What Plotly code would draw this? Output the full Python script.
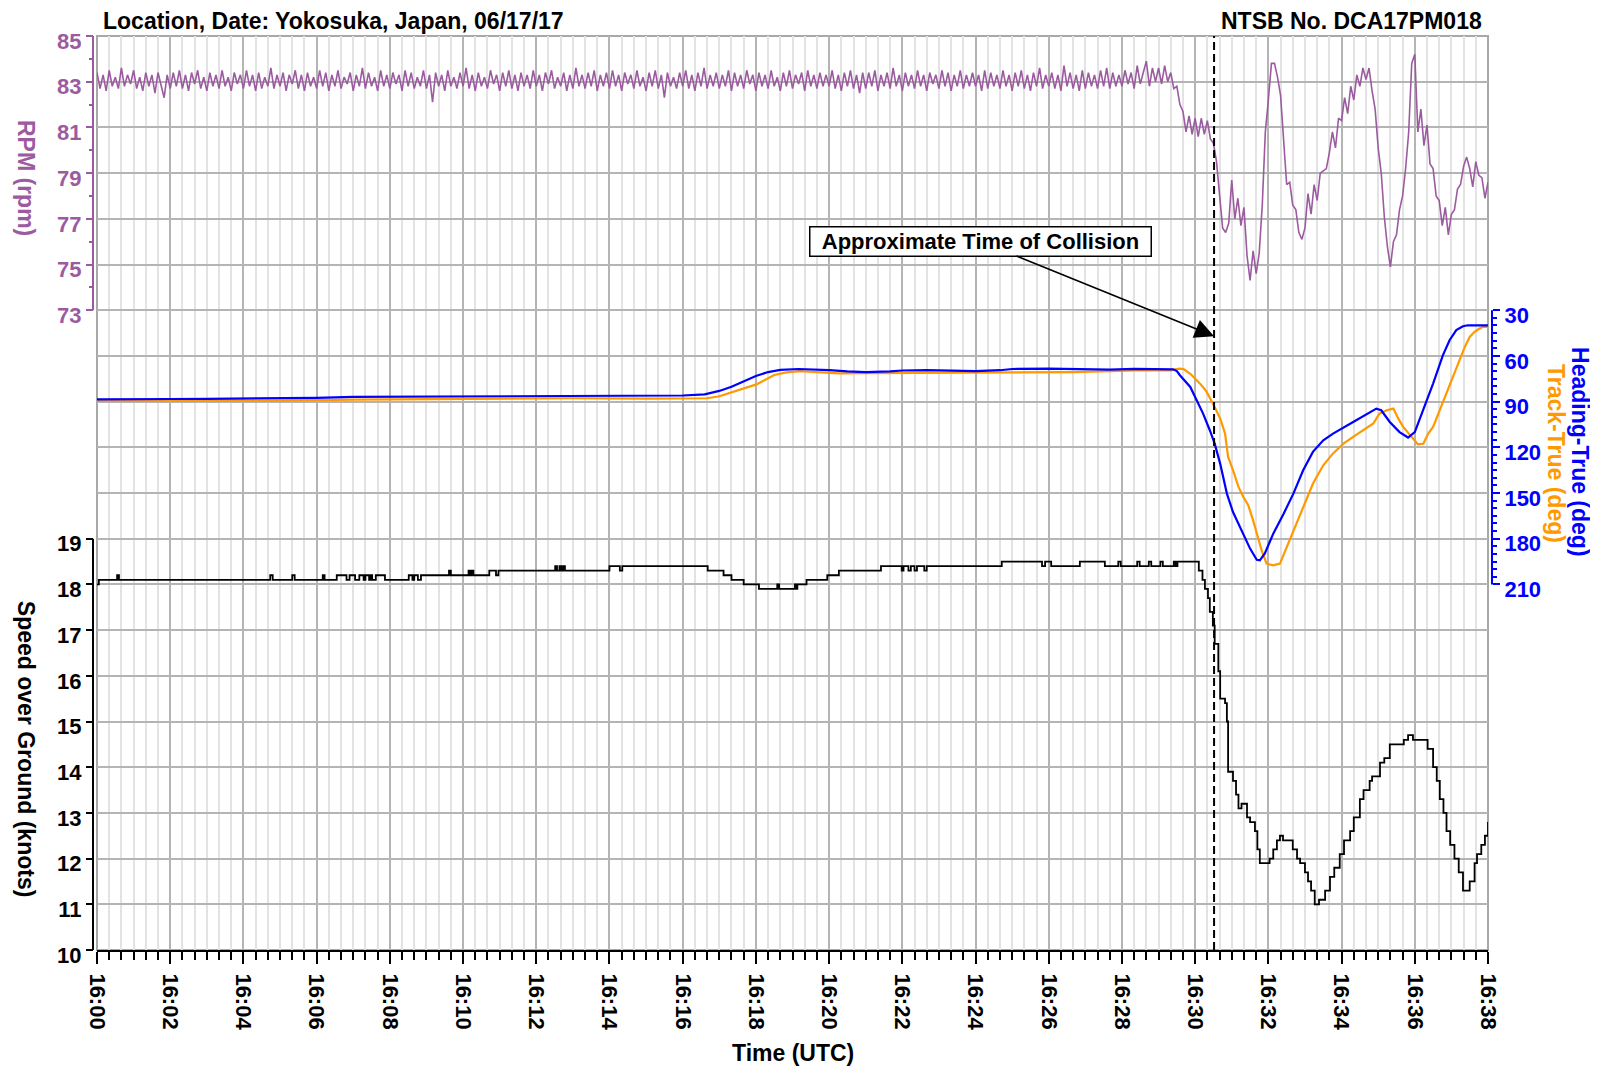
import pandas as pd
import plotly.graph_objects as go

START = pd.Timestamp("2017-06-17 16:00:00")
END_S = 2280
COLLISION_S = 1831

# ---------------- DATA ----------------
# RPM, one row per minute, samples every 5 s
rpm_rows = [
    [83.4, 82.7, 83.3, 82.6, 83.5, 82.8, 83.2, 82.7, 83.6, 82.8, 83.3, 82.9],
    [83.5, 82.7, 83.2, 82.6, 83.4, 82.8, 83.3, 82.5, 83.4, 82.8, 82.3, 83.3],
    [82.7, 83.4, 82.8, 83.5, 82.7, 83.3, 82.6, 83.4, 82.9, 83.5, 82.7, 83.2],
    [82.6, 83.4, 82.8, 83.3, 82.7, 83.5, 82.8, 83.2, 82.6, 83.4, 82.9, 83.3],
    [82.7, 83.5, 82.8, 83.3, 82.6, 83.4, 82.7, 83.2, 82.8, 83.6, 82.7, 83.3],
    [82.8, 83.4, 82.6, 83.3, 82.9, 83.5, 82.7, 83.3, 82.6, 83.4, 82.8, 83.2],
    [82.7, 83.5, 82.8, 83.4, 82.6, 83.3, 82.8, 83.5, 82.7, 83.2, 82.9, 83.4],
    [82.6, 83.3, 82.8, 83.6, 82.7, 83.4, 82.8, 83.2, 82.6, 83.5, 82.8, 83.3],
    [82.7, 83.4, 82.9, 83.3, 82.6, 83.5, 82.8, 83.4, 82.7, 83.2, 82.8, 83.5],
    [82.7, 83.3, 82.1, 83.4, 82.8, 83.3, 82.6, 83.5, 82.8, 83.2, 82.7, 83.4],
    [82.8, 83.6, 82.7, 83.3, 82.6, 83.4, 82.8, 83.2, 82.7, 83.5, 82.9, 83.3],
    [82.6, 83.4, 82.8, 83.5, 82.7, 83.3, 82.6, 83.4, 82.8, 83.3, 82.7, 83.5],
    [82.8, 83.3, 82.6, 83.4, 82.9, 83.5, 82.7, 83.2, 82.8, 83.4, 82.6, 83.3],
    [82.7, 83.6, 82.8, 83.3, 82.7, 83.4, 82.8, 83.5, 82.6, 83.3, 82.8, 83.4],
    [82.7, 83.5, 82.8, 83.3, 82.6, 83.4, 82.9, 83.3, 82.7, 83.5, 82.8, 83.2],
    [82.6, 83.4, 82.8, 83.5, 82.7, 83.3, 82.3, 83.4, 82.8, 83.2, 82.7, 83.4],
    [82.8, 83.5, 82.7, 83.3, 82.6, 83.4, 82.8, 83.6, 82.7, 83.3, 82.8, 83.4],
    [82.7, 83.3, 82.8, 83.5, 82.6, 83.4, 82.8, 83.3, 82.7, 83.5, 82.9, 83.3],
    [82.6, 83.4, 82.8, 83.3, 82.7, 83.5, 82.8, 83.2, 82.6, 83.4, 82.8, 83.5],
    [82.7, 83.3, 82.9, 83.4, 82.6, 83.5, 82.8, 83.3, 82.7, 83.4, 82.8, 83.3],
    [82.8, 83.5, 82.7, 83.3, 82.6, 83.4, 82.8, 83.5, 82.7, 83.3, 82.5, 83.4],
    [82.7, 83.4, 82.8, 83.5, 82.6, 83.3, 82.8, 83.4, 82.7, 83.6, 82.8, 83.3],
    [82.6, 83.4, 82.8, 83.3, 82.7, 83.5, 82.8, 83.3, 82.6, 83.4, 82.9, 83.3],
    [82.7, 83.5, 82.8, 83.4, 82.6, 83.3, 82.8, 83.5, 82.7, 83.3, 82.8, 83.4],
    [82.8, 83.3, 82.6, 83.5, 82.7, 83.4, 82.8, 83.3, 82.7, 83.5, 82.8, 83.3],
    [82.6, 83.4, 82.8, 83.5, 82.7, 83.3, 82.6, 83.4, 82.8, 83.6, 82.7, 83.3],
    [82.8, 83.4, 82.7, 83.3, 82.6, 83.7, 82.8, 83.4, 82.7, 83.3, 82.6, 83.5],
    [82.7, 83.4, 82.8, 83.3, 82.7, 83.5, 82.8, 83.6, 82.7, 83.4, 82.8, 83.3],
    [82.8, 83.5, 82.9, 83.4, 82.7, 83.7, 82.9, 83.4, 83.9, 82.8, 83.6, 83.0],
    [83.6, 82.9, 83.7, 83.0, 83.4, 82.7, 82.8, 82.0, 81.7, 80.8, 81.5, 80.7],
    [81.4, 80.6, 81.4, 80.7, 81.3, 80.5, 80.3, 79.5, 78.1, 76.6, 76.4, 76.8],
    [78.7, 77.0, 77.9, 76.7, 77.5, 75.4, 74.3, 75.6, 74.6, 75.5, 77.6, 80.8],
    [82.2, 83.8, 83.8, 83.2, 82.4, 80.2, 78.5, 78.6, 77.6, 77.4, 76.4, 76.1],
    [76.6, 78.1, 77.2, 78.5, 77.8, 79.0, 79.1, 79.2, 79.9, 80.8, 80.1, 81.4],
    [81.3, 82.3, 81.6, 82.8, 82.2, 83.3, 82.8, 83.6, 83.1, 83.6, 82.6, 81.8],
    [80.1, 79.0, 77.1, 75.8, 74.9, 76.0, 76.3, 77.4, 78.0, 79.2, 80.8, 83.8],
    [84.2, 80.8, 81.8, 80.2, 81.1, 79.4, 79.2, 78.0, 77.8, 76.7, 77.5, 76.3],
    [77.2, 77.4, 78.3, 78.5, 79.3, 79.7, 79.2, 78.4, 79.5, 78.9, 78.8, 77.9],
]
rpm_last = 78.6
rpm_values = [v for row in rpm_rows for v in row] + [rpm_last]
rpm_seconds = [5 * i for i in range(len(rpm_values))]

heading_seconds = [0, 60, 120, 180, 240, 300, 360, 420, 480, 540, 600, 660, 720, 780, 840, 900, 960,
                   996, 1020, 1040, 1060, 1080, 1100, 1120, 1150, 1180, 1200, 1230, 1260, 1300, 1320,
                   1360, 1400, 1440, 1480, 1500, 1560, 1600, 1660, 1700, 1740, 1764, 1770, 1775, 1792,
                   1802, 1813, 1824, 1832, 1841, 1852, 1862, 1879, 1890, 1901, 1906, 1914, 1928, 1945,
                   1961, 1977, 1993, 2010, 2026, 2059, 2097, 2105, 2119, 2135, 2149, 2160, 2174, 2190,
                   2206, 2217, 2228, 2239, 2247, 2280]
heading_values = [88.5, 88.6, 88.3, 88.2, 88.0, 88.1, 87.6, 86.9, 86.8, 86.6, 86.5, 86.4, 86.5, 86.1, 86.0, 86.2, 86.0,
                  85.2, 83.0, 80.3, 77.0, 73.2, 70.6, 69.2, 68.6, 68.8, 69.3, 70.2, 70.6, 70.2, 69.6,
                  69.3, 69.6, 70.0, 69.4, 68.6, 68.4, 68.6, 69.0, 68.5, 68.5, 68.8, 70.0, 72.7, 80.4,
                  89.1, 97.9, 108.8, 117.6, 130.7, 150.4, 162.5, 176.7, 186.5, 193.8, 194.2, 189.9, 176.7, 163.6,
                  150.4, 135.1, 123.0, 115.4, 111.0, 103.4, 94.6, 95.7, 103.4, 110.0, 113.6, 110.0, 95.7, 78.2,
                  59.6, 49.7, 43.1, 40.5, 39.9, 39.9]

track_seconds = [0, 120, 300, 420, 600, 780, 900, 1000, 1020, 1046, 1081, 1110, 1130, 1152, 1216, 1260,
                 1300, 1400, 1500, 1600, 1662, 1700, 1760, 1774, 1781, 1793, 1808, 1818, 1829, 1841, 1849,
                 1854, 1862, 1871, 1879, 1887, 1895, 1903, 1909, 1917, 1928, 1939, 1950, 1961, 1972, 1982,
                 1993, 1999, 2010, 2026, 2043, 2059, 2075, 2092, 2102, 2114, 2125, 2133, 2141, 2155, 2165,
                 2174, 2182, 2190, 2201, 2212, 2223, 2234, 2242, 2250, 2258, 2266, 2272, 2277, 2280]
track_values = [89.5, 89.4, 89.3, 88.7, 88.2, 87.8, 88.0, 87.8, 86.5, 83.0, 78.7, 72.5, 70.8, 70.0, 71.5, 71.3,
                71.2, 70.8, 71.0, 70.6, 70.0, 69.6, 69.5, 68.4, 68.6, 72.1, 78.2, 83.0, 91.3, 101.0, 111.0,
                126.3, 135.0, 146.0, 152.6, 158.0, 168.0, 180.0, 187.7, 196.4, 197.5, 196.4, 185.5, 174.5, 163.6, 154.8,
                143.9, 139.5, 131.8, 124.0, 117.6, 113.2, 108.8, 104.4, 97.9, 95.7, 94.6, 101.2, 106.6, 113.2, 118.0,
                117.6, 111.0, 106.6, 95.7, 84.7, 73.8, 62.9, 54.1, 47.5, 44.2, 42.0, 40.9, 41.0, 40.0]

speed_seconds = [0, 3, 33, 36, 284, 288, 320, 324, 370, 373, 393, 409, 414, 423, 430, 437, 440, 446, 449, 451,
                 457, 472, 511, 517, 520, 526, 531, 577, 580, 609, 612, 614, 617, 643, 654, 658, 751, 754,
                 758, 761, 764, 767, 840, 857, 861, 1001, 1027, 1040, 1060, 1085, 1115, 1118, 1144, 1147,
                 1148, 1163, 1197, 1216, 1285, 1319, 1322, 1330, 1334, 1340, 1344, 1356, 1360, 1483, 1549,
                 1554, 1564, 1611, 1652, 1674, 1678, 1705, 1709, 1724, 1728, 1743, 1747, 1765, 1768, 1771,
                 1806, 1812, 1816, 1821, 1824, 1829, 1832, 1838, 1841, 1849, 1852, 1854, 1862, 1867, 1871,
                 1876, 1885, 1890, 1898, 1902, 1906, 1922, 1928, 1934, 1939, 1944, 1960, 1967, 1972, 1980,
                 1985, 1990, 1996, 2003, 2013, 2021, 2028, 2037, 2044, 2054, 2060, 2070, 2076, 2086, 2090,
                 2103, 2110, 2119, 2142, 2149, 2157, 2181, 2190, 2196, 2201, 2207, 2212, 2218, 2225, 2232,
                 2239, 2250, 2258, 2262, 2269, 2275, 2280]
speed_values = [18.0, 18.1, 18.2, 18.1, 18.2, 18.1, 18.2, 18.1, 18.2, 18.1, 18.2, 18.1, 18.2, 18.1, 18.2, 18.1, 18.2, 18.1, 18.2, 18.1,
                18.2, 18.1, 18.2, 18.1, 18.2, 18.1, 18.2, 18.3, 18.2, 18.3, 18.2, 18.3, 18.2, 18.3, 18.2, 18.3, 18.4, 18.3,
                18.4, 18.3, 18.4, 18.3, 18.4, 18.3, 18.4, 18.3, 18.2, 18.1, 18.0, 17.9, 18.0, 17.9, 18.0, 17.9,
                18.0, 18.1, 18.2, 18.3, 18.4, 18.3, 18.4, 18.3, 18.4, 18.3, 18.4, 18.3, 18.4, 18.5, 18.4,
                18.5, 18.4, 18.5, 18.4, 18.5, 18.4, 18.5, 18.4, 18.5, 18.4, 18.5, 18.4, 18.5, 18.4, 18.5,
                18.3, 18.1, 17.9, 17.7, 17.4, 17.1, 16.7, 16.1, 15.5, 15.4, 15.0, 13.9, 13.7, 13.4, 13.1,
                13.2, 12.9, 12.8, 12.6, 12.2, 11.9, 12.0, 12.2, 12.4, 12.5, 12.4, 12.2, 12.0, 11.9, 11.7,
                11.5, 11.3, 11.0, 11.1, 11.3, 11.6, 11.8, 12.1, 12.4, 12.6, 12.9, 13.3, 13.5, 13.7, 13.8,
                14.1, 14.2, 14.5, 14.6, 14.7, 14.6, 14.4, 14.0, 13.7, 13.3, 13.0, 12.6, 12.3, 12.0, 11.7,
                11.3, 11.5, 11.9, 12.1, 12.3, 12.5, 12.8]

# axis tick values
speed_ticks = [10, 11, 12, 13, 14, 15, 16, 17, 18, 19]
heading_ticks = [30, 60, 90, 120, 150, 180, 210]
heading_minor = [35, 40, 45, 50, 55, 65, 70, 75, 80, 85, 95, 100, 105, 110, 115, 125, 130, 135, 140, 145,
                 155, 160, 165, 170, 175, 185, 190, 195, 200, 205]
rpm_ticks = [73, 75, 77, 79, 81, 83, 85]
rpm_minor = [74, 76, 78, 80, 82, 84]

# ---------------- STYLE ----------------
PURPLE = "#9c5ba0"
BLUE = "#0000ff"
ORANGE = "#ff9900"
FONT = "Liberation Sans, Arial, sans-serif"
MAJOR_GRID = "#b4b4b4"
MINOR_GRID = "#e3e3e3"
TICK_SIZE = 22
TEXT_SIZE = 23

# panel bands (paper fractions)
SPEED_BAND = (0.0, 0.45)
HEADING_BAND = (0.4, 0.7)
RPM_BAND = (0.7, 1.0)


def band_range(lo_val, hi_val, band):
    """Axis range across the whole plot so that [lo_val, hi_val] fills the band."""
    b0, b1 = band
    per = (hi_val - lo_val) / (b1 - b0)
    return [lo_val - b0 * per, hi_val + (1 - b1) * per]


def to_times(secs):
    return [START + pd.Timedelta(seconds=s) for s in secs]


fig = go.Figure()

fig.add_trace(go.Scatter(x=to_times(speed_seconds), y=speed_values, mode="lines",
                         line=dict(color="black", width=1.8, shape="hv"), yaxis="y", showlegend=False))
fig.add_trace(go.Scatter(x=to_times(track_seconds), y=track_values, mode="lines",
                         line=dict(color=ORANGE, width=2.2), yaxis="y2", showlegend=False))
fig.add_trace(go.Scatter(x=to_times(heading_seconds), y=heading_values, mode="lines",
                         line=dict(color=BLUE, width=2.2), yaxis="y2", showlegend=False))
fig.add_trace(go.Scatter(x=to_times(rpm_seconds), y=rpm_values, mode="lines",
                         line=dict(color=PURPLE, width=1.6), yaxis="y3", showlegend=False))


def tickfont(c):
    return dict(family=FONT, size=TICK_SIZE, color=c, weight="bold")


# heading: 30 at top of its band, 210 at the bottom -> reversed axis
h_lo, h_hi = HEADING_BAND
h_per = (210 - 30) / (h_hi - h_lo)
heading_range = [210 + h_lo * h_per, 30 - (1 - h_hi) * h_per]

fig.update_layout(
    width=1590, height=1060,
    margin=dict(l=89, r=110, t=28, b=118, autoexpand=False),
    paper_bgcolor="white", plot_bgcolor="white",
    font=dict(family=FONT, size=TICK_SIZE, color="black"),
    xaxis=dict(
        type="date", automargin=False,
        range=[START, START + pd.Timedelta(seconds=END_S)],
        dtick=120000, tick0=START, tickformat="%H:%M", tickangle=90,
        tickfont=tickfont("black"), ticklabelstandoff=5,
        ticks="outside", ticklen=12, tickwidth=2, tickcolor="black",
        showline=True, linecolor="black", linewidth=2,
        showgrid=True, gridcolor=MAJOR_GRID, gridwidth=2,
        minor=dict(dtick=20000, tick0=START, ticks="outside", ticklen=8, tickwidth=2, tickcolor="black",
                   showgrid=True, gridcolor=MINOR_GRID, gridwidth=1.6),
        zeroline=False, anchor="y",
    ),
    yaxis=dict(
        automargin=False,
        range=band_range(10, 19, SPEED_BAND), tickmode="array", tickvals=speed_ticks,
        anchor="free", position=0, shift=-4,
        showline=False,
        ticks="outside", ticklen=7, tickwidth=2, tickcolor="black",
        tickfont=tickfont("black"), ticklabelshift=5,
        showgrid=True, gridcolor=MAJOR_GRID, gridwidth=2, zeroline=False,
    ),
    yaxis2=dict(
        automargin=False, overlaying="y",
        range=heading_range, tickmode="array", tickvals=heading_ticks,
        side="right", anchor="free", position=1, shift=4,
        showline=False,
        ticks="outside", ticklen=7, tickwidth=2, tickcolor=BLUE,
        minor=dict(tickmode="array", tickvals=heading_minor, ticks="outside", ticklen=4, tickwidth=1.5,
                   tickcolor=BLUE, showgrid=False),
        tickfont=tickfont(BLUE), ticklabelshift=-5,
        showgrid=True, gridcolor=MAJOR_GRID, gridwidth=2, zeroline=False,
    ),
    yaxis3=dict(
        automargin=False, overlaying="y",
        range=band_range(73, 85, RPM_BAND), tickmode="array", tickvals=rpm_ticks,
        anchor="free", position=0, shift=-4,
        showline=False,
        ticks="outside", ticklen=7, tickwidth=2, tickcolor=PURPLE,
        minor=dict(tickmode="array", tickvals=rpm_minor, ticks="outside", ticklen=4, tickwidth=1.5,
                   tickcolor=PURPLE, showgrid=False),
        tickfont=tickfont(PURPLE), ticklabelshift=5,
        showgrid=True, gridcolor=MAJOR_GRID, gridwidth=2, zeroline=False,
    ),
)

collision_time = START + pd.Timedelta(seconds=COLLISION_S)

# plot frame
fig.add_shape(type="rect", xref="paper", yref="paper", x0=0, x1=1, y0=0, y1=1,
              line=dict(color="#a8a8a8", width=2), layer="below")
# axis lines of each panel (offset a few pixels outside the plot frame)
for band, color, anchor, off in [(SPEED_BAND, "black", 0, -4), (RPM_BAND, PURPLE, 0, -4),
                                 (HEADING_BAND, BLUE, 1, 4)]:
    fig.add_shape(type="line", xref="paper", yref="paper", xsizemode="pixel", xanchor=anchor,
                  x0=off, x1=off, y0=band[0], y1=band[1], line=dict(color=color, width=2))
# collision marker
fig.add_shape(type="line", xref="x", yref="paper", x0=collision_time, x1=collision_time, y0=0, y1=1,
              line=dict(color="black", width=2, dash="8px,4px"))


def text_font(color, size=TEXT_SIZE):
    return dict(family=FONT, size=size, color=color, weight="bold")


annotations = [
    dict(text="Location, Date: Yokosuka, Japan, 06/17/17", xref="paper", yref="paper", x=0.003, y=1.0164,
         xanchor="left", yanchor="middle", showarrow=False, font=text_font("black")),
    dict(text="NTSB No. DCA17PM018", xref="paper", yref="paper", x=0.9971, y=1.0164,
         xanchor="right", yanchor="middle", showarrow=False, font=text_font("black")),
    dict(text="RPM (rpm)", xref="paper", yref="paper", x=-0.051, y=0.8446, textangle=90,
         xanchor="center", yanchor="middle", showarrow=False, font=text_font(PURPLE)),
    dict(text="Speed over Ground (knots)", xref="paper", yref="paper", x=-0.051, y=0.22, textangle=90,
         xanchor="center", yanchor="middle", showarrow=False, font=text_font("black")),
    dict(text="Heading-True (deg)", xref="paper", yref="paper", x=1.0661, y=0.5449, textangle=90,
         xanchor="center", yanchor="middle", showarrow=False, font=text_font(BLUE)),
    dict(text="Track-True (deg)", xref="paper", yref="paper", x=1.0489, y=0.5438, textangle=90,
         xanchor="center", yanchor="middle", showarrow=False, font=text_font(ORANGE)),
    dict(text="Time (UTC)", xref="paper", yref="paper", x=0.5, y=-0.1127,
         xanchor="center", yanchor="middle", showarrow=False, font=text_font("black")),
    dict(text="Approximate Time of Collision", xref="x", yref="paper", x=collision_time, y=0.6716,
         ax=-234, ay=-95, showarrow=True, arrowhead=2, arrowsize=2.4, arrowwidth=1.6, arrowcolor="black",
         bgcolor="white", bordercolor="black", borderwidth=1.5, borderpad=1, width=338, height=26,
         font=text_font("black", 22)),
]
fig.update_layout(annotations=annotations)

fig.write_html("out.html")
